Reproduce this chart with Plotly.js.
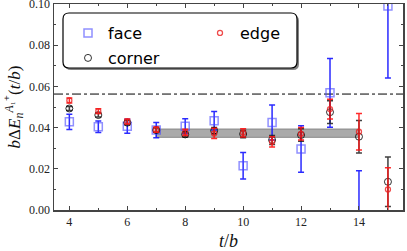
<!DOCTYPE html>
<html><head><meta charset="utf-8">
<script src="https://cdn.plot.ly/plotly-3.0.1.min.js"></script>
<style>html,body{margin:0;padding:0;background:#fff}#plot{width:407px;height:251px}</style>
</head><body><div id="plot"></div>
<script>
var t = [4,5,6,7,8,9,10,11,12,13,14,15];
var face = [0.0428,0.0404,0.0407,0.0388,0.0407,0.0433,0.0215,0.0425,0.0296,0.0569,-0.005,0.0991];
var faceErr = [0.0037,0.0028,0.0034,0.0037,0.0036,0.0045,0.0064,0.0085,0.0113,0.0167,0.024,0.035];
var corner = [0.0493,0.0461,0.0424,0.0388,0.0367,0.0385,0.0369,0.0340,0.0364,0.0475,0.0356,0.0137];
var cornerErr = [0.0010,0.0010,0.0010,0.0010,0.0012,0.0015,0.0018,0.0022,0.0030,0.0055,0.0079,0.0120];
var edge = [0.0532,0.0480,0.0430,0.0390,0.0377,0.0372,0.0375,0.0331,0.0370,0.0490,0.0380,0.0100];
var edgeErr = [0.0012,0.0012,0.0012,0.0013,0.0015,0.0025,0.0020,0.0025,0.0030,0.0048,0.0089,0.0105];
var bandT = [7,14];
var bandLow = 0.0353, bandHigh = 0.0393;
var threshold = 0.0563;
var xTicks = [4,6,8,10,12,14];
var yTicks = [0.00,0.02,0.04,0.06,0.08,0.10];

var serif = "'Liberation Serif', 'DejaVu Serif', serif";
var legFont = {family:"'DejaVu Sans', sans-serif", size:16, color:'#000'};
var traces = [
  {x:[bandT[0],bandT[1],bandT[1],bandT[0],bandT[0]], y:[bandLow,bandLow,bandHigh,bandHigh,bandLow],
   mode:'lines', fill:'toself', fillcolor:'#aaaaaa',
   line:{color:'#888888', width:1}, showlegend:false, hoverinfo:'skip'},
  {name:'face', legend:'legend4', x:t, y:face, mode:'markers',
   error_y:{type:'data', array:faceErr, visible:true, color:'rgba(20,20,255,0.9)', thickness:1.5, width:3},
   marker:{symbol:'square-open', size:8, color:'rgba(70,70,255,0.6)', line:{width:1.5}}},
  {name:'corner', legend:'legend3', x:t, y:corner, mode:'markers',
   error_y:{type:'data', array:cornerErr, visible:true, color:'rgba(30,30,30,0.85)', thickness:1.5, width:3},
   marker:{symbol:'circle-open', size:7, color:'rgba(0,0,0,0.8)', line:{width:1}}},
  {name:'edge', legend:'legend2', x:t, y:edge, mode:'markers',
   error_y:{type:'data', array:edgeErr, visible:true, color:'rgba(255,20,20,0.9)', thickness:1.5, width:3},
   marker:{symbol:'circle-open', size:5, color:'rgba(235,30,30,0.8)', line:{width:1.3}}}
];
var px = function(p){return (p-54)/349;};
var py = function(p){return (210-p)/206;};
function rrect(x0,y0,x1,y1,r){
  var rx=r/349, ry=r/206;
  var L=px(x0),R=px(x1),T=py(y0),B=py(y1);
  return 'M'+(L+rx)+','+T+' L'+(R-rx)+','+T+' Q'+R+','+T+' '+R+','+(T-ry)+
    ' L'+R+','+(B+ry)+' Q'+R+','+B+' '+(R-rx)+','+B+' L'+(L+rx)+','+B+
    ' Q'+L+','+B+' '+L+','+(B+ry)+' L'+L+','+(T-ry)+' Q'+L+','+T+' '+(L+rx)+','+T+' Z';
}
function leg(x,y){return {x:px(x), y:py(y), xanchor:'left', yanchor:'top', bgcolor:'rgba(0,0,0,0)', borderwidth:0, font:legFont};}
var layout = {
  width:407, height:251, margin:{l:54, r:4, t:4, b:41},
  paper_bgcolor:'#fff', plot_bgcolor:'#fff',
  showlegend:true,
  legend4:leg(68,16),
  legend2:leg(200,16),
  legend3:leg(68,41),
  xaxis:{range:[3.47,15.52], tickvals:xTicks, ticktext:xTicks.map(String), ticks:'inside', ticklen:4,
    minor:{dtick:1, tick0:0, ticks:'inside', ticklen:2, tickcolor:'#444'},
    mirror:'allticks', showline:true, linecolor:'#444', linewidth:1.5, showgrid:false, zeroline:false,
    tickfont:{family:serif, size:12, color:'#222'}, ticklabeloverflow:'allow',
    title:{text:'<i>t</i>/<i>b</i>', font:{family:serif, size:18, color:'#111'}, standoff:6}},
  yaxis:{range:[0,0.10002], tickvals:yTicks, ticktext:yTicks.map(function(v){return v.toFixed(2);}), ticks:'inside', ticklen:4,
    minor:{dtick:0.01, tick0:0, ticks:'inside', ticklen:2, tickcolor:'#444'},
    mirror:'allticks', showline:true, linecolor:'#444', linewidth:1.5, showgrid:false, zeroline:false,
    tickfont:{family:serif, size:12, color:'#222'}, ticklabeloverflow:'allow',
    title:{text:'<i>b</i>Δ<i>E</i><sub><i>n</i></sub><sup><i>A</i>₁⁺</sup>(<i>t</i>/<i>b</i>)', font:{family:serif, size:17, color:'#111'}, standoff:4}},
  shapes:[
    {type:'line', xref:'paper', x0:0, x1:1, yref:'y', y0:threshold, y1:threshold, line:{color:'#000', width:1, dash:'dashdot'}, layer:'below'},
    {type:'path', xref:'paper', yref:'paper', path:rrect(65,15,299,70,6), fillcolor:'rgba(110,110,110,0.85)', line:{width:0}, layer:'above'},
    {type:'path', xref:'paper', yref:'paper', path:rrect(63,13,297,68,6), fillcolor:'#fff', line:{color:'#000', width:1.2}, layer:'above'}
  ]
};
Plotly.newPlot('plot', traces, layout, {staticPlot:true, displayModeBar:false});
</script></body></html>
